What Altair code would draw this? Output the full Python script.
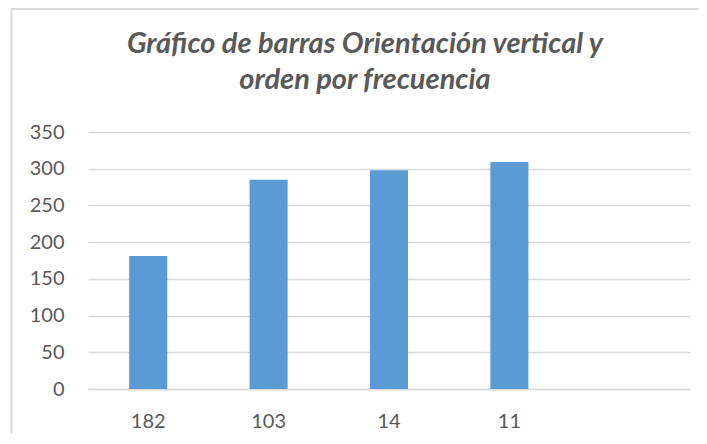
import altair as alt
import pandas as pd

categories = ["182", "103", "14", "11"]
values = [181, 285, 298, 309]
domain_order = ["182", "103", "14", "11", ""]
y_ticks = [0, 50, 100, 150, 200, 250, 300, 350]

df = pd.DataFrame({"cat": categories, "val": values})

GREY = "#595959"
GRID = "#d9d9d9"
FONT = "Lato"

bars = alt.Chart(df).mark_bar(color="#5b9bd5").encode(
    x=alt.X(
        "cat:N",
        sort=domain_order,
        scale=alt.Scale(domain=domain_order, paddingInner=0.684, paddingOuter=0.342),
        axis=alt.Axis(
            title=None, labelAngle=0, ticks=False, domain=True, domainColor=GRID,
            domainWidth=1.5, labelPadding=22, labelFontSize=20, labelFont=FONT,
            labelColor=GREY, grid=False,
        ),
    ),
    y=alt.Y(
        "val:Q",
        scale=alt.Scale(domain=[0, 350], nice=False),
        axis=alt.Axis(
            title=None, values=y_ticks, ticks=False, domain=False, grid=True,
            gridColor=GRID, gridWidth=1.5, labelPadding=24, labelFontSize=20,
            labelFont=FONT, labelColor=GREY,
        ),
    ),
)

border_data = alt.Data(values=[{"k": 1}])
left_border = alt.Chart(border_data).mark_rule(color=GRID, strokeWidth=2).encode(
    x=alt.value(-76.5), y=alt.value(-124), y2=alt.value(310)
)
top_border = alt.Chart(border_data).mark_rule(color=GRID, strokeWidth=2).encode(
    x=alt.value(-77), x2=alt.value(615), y=alt.value(-123)
)

chart = alt.layer(bars, left_border, top_border).properties(
    width=602,
    height=257,
    background="white",
    autosize=alt.AutoSizeParams(type="none"),
    padding={"left": 80, "top": 124, "right": 9, "bottom": 45},
    title=alt.TitleParams(
        text=["Gráfico de barras Orientación vertical y", "orden por frecuencia"],
        font=FONT, fontSize=29, fontWeight="bold", fontStyle="italic",
        color=GREY, lineHeight=36, anchor="middle", dx=-24, offset=-117,
        baseline="bottom",
    ),
).configure_view(stroke="transparent", strokeWidth=0)

chart.save("out.html", embed_options={"renderer": "svg", "actions": False})
